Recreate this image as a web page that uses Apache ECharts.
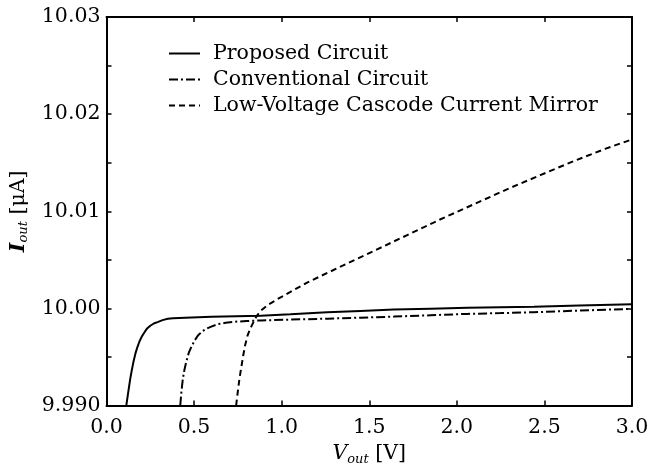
<!DOCTYPE html>
<html>
<head>
<meta charset="utf-8">
<script src="https://cdn.jsdelivr.net/npm/echarts@6/dist/echarts.min.js"></script>
<style>
  html, body { margin: 0; padding: 0; background: #fff; }
  #chart { width: 668px; height: 471px; }
</style>
</head>
<body>
<div id="chart"></div>
<script>
// output current vs output voltage
var seriesNames = ['Proposed Circuit', 'Conventional Circuit', 'Low-Voltage Cascode Current Mirror'];

var vProposed = [0.113, 0.125, 0.135, 0.145, 0.155, 0.165, 0.176, 0.188, 0.200, 0.215, 0.230, 0.250, 0.270, 0.295, 0.320, 0.350, 0.380, 0.450, 0.600, 0.880, 1.050, 1.260, 1.450, 1.640, 1.850, 2.060, 2.250, 2.440, 2.700, 3.000];
var iProposed = [9.99000, 9.99150, 9.99270, 9.99370, 9.99460, 9.99535, 9.99600, 9.99660, 9.99705, 9.99750, 9.99790, 9.99822, 9.99845, 9.99862, 9.99880, 9.99893, 9.99900, 9.99905, 9.99914, 9.99925, 9.99940, 9.99960, 9.99975, 9.99988, 9.99998, 10.00006, 10.00012, 10.00018, 10.00030, 10.00042];

var vConventional = [0.421, 0.428, 0.436, 0.445, 0.455, 0.470, 0.488, 0.505, 0.522, 0.545, 0.569, 0.598, 0.636, 0.680, 0.730, 0.800, 0.882, 1.050, 1.262, 1.450, 1.641, 1.850, 2.060, 2.250, 2.440, 2.700, 3.000];
var iConventional = [9.99000, 9.99150, 9.99277, 9.99370, 9.99448, 9.99545, 9.99618, 9.99675, 9.99721, 9.99762, 9.99790, 9.99813, 9.99838, 9.99853, 9.99863, 9.99870, 9.99877, 9.99885, 9.99895, 9.99905, 9.99916, 9.99930, 9.99944, 9.99952, 9.99961, 9.99978, 9.99996];

var vCascode = [0.740, 0.750, 0.759, 0.770, 0.780, 0.791, 0.805, 0.818, 0.829, 0.845, 0.859, 0.882, 0.920, 0.977, 1.050, 1.148, 1.330, 1.527, 1.720, 1.907, 2.100, 2.286, 2.480, 2.666, 2.850, 3.000];
var iCascode = [9.99000, 9.99150, 9.99277, 9.99400, 9.99510, 9.99618, 9.99720, 9.99780, 9.99823, 9.99880, 9.99926, 9.99978, 10.00035, 10.00097, 10.00170, 10.00269, 10.00425, 10.00593, 10.00758, 10.00918, 10.01075, 10.01226, 10.01375, 10.01516, 10.01645, 10.01740];

var xTicks = [0, 0.5, 1, 1.5, 2, 2.5, 3];
var xTickLabels = ['0.0', '0.5', '1.0', '1.5', '2.0', '2.5', '3.0'];
var yTicks = [9.99, 10.00, 10.01, 10.02, 10.03];
var yTickLabels = ['9.990', '10.00', '10.01', '10.02', '10.03'];

function pairs(xs, ys) {
  return xs.map(function (x, i) { return [x, ys[i]]; });
}

function lookup(ticks, labels, v) {
  for (var i = 0; i < ticks.length; i++) {
    if (Math.abs(ticks[i] - v) < 1e-6) return labels[i];
  }
  return '';
}

var font = 'DejaVu Serif';
var fs = 20.5;

var chart = echarts.init(document.getElementById('chart'), null, { renderer: 'canvas' });

var axisLine = { show: true, onZero: false, lineStyle: { color: '#000', width: 2 } };
var axisTick = { show: true, inside: true, length: 5, lineStyle: { color: '#000', width: 1.5 } };
var minorTick = { show: true, splitNumber: 2, length: 5, lineStyle: { color: '#000', width: 1.5 } };

var option = {
  animation: false,
  backgroundColor: '#fff',
  grid: { left: 105, right: 36, top: 17, bottom: 64, containLabel: false },
  legend: {
    orient: 'vertical',
    left: 163,
    top: 38,
    itemWidth: 31,
    itemHeight: 12,
    itemGap: 5,
    data: seriesNames,
    itemStyle: { opacity: 0 },
    textStyle: { fontFamily: font, fontSize: fs, color: '#000', padding: [0, 0, 0, 8] }
  },
  xAxis: [
    {
      type: 'value',
      position: 'bottom',
      min: 0, max: 3, interval: 0.5,
      axisLine: axisLine,
      axisTick: axisTick,
      splitLine: { show: false },
      axisLabel: {
        margin: 12,
        fontFamily: font, fontSize: fs, color: '#000',
        formatter: function (v) { return lookup(xTicks, xTickLabels, v); }
      },
      name: '{i|V}{s|out}{n| [V]}',
      nameLocation: 'middle',
      nameGap: 36,
      nameTextStyle: {
        rich: {
          i: { fontFamily: font, fontSize: fs, fontStyle: 'italic', color: '#000', lineHeight: 24 },
          s: { fontFamily: font, fontSize: 13, fontStyle: 'italic', color: '#000', lineHeight: 15, verticalAlign: 'bottom' },
          n: { fontFamily: font, fontSize: fs, color: '#000', lineHeight: 24 }
        }
      }
    },
    {
      type: 'value',
      position: 'top',
      min: 0, max: 3, interval: 0.5,
      axisLine: axisLine,
      axisTick: axisTick,
      axisLabel: { show: false },
      splitLine: { show: false }
    }
  ],
  yAxis: [
    {
      type: 'value',
      position: 'left',
      min: 9.99, max: 10.03, interval: 0.01,
      axisLine: axisLine,
      axisTick: axisTick,
      minorTick: minorTick,
      splitLine: { show: false },
      axisLabel: {
        margin: 6,
        fontFamily: font, fontSize: fs, color: '#000',
        formatter: function (v) { return lookup(yTicks, yTickLabels, v); }
      },
      name: '{i|I}{s|out}{n| [μA]}',
      nameLocation: 'middle',
      nameGap: 76,
      nameRotate: 90,
      nameTextStyle: {
        rich: {
          i: { fontFamily: font, fontSize: fs, fontStyle: 'italic', fontWeight: 'bold', color: '#000', lineHeight: 24 },
          s: { fontFamily: font, fontSize: 13, fontStyle: 'italic', color: '#000', lineHeight: 15, verticalAlign: 'bottom' },
          n: { fontFamily: font, fontSize: fs, color: '#000', lineHeight: 24 }
        }
      }
    },
    {
      type: 'value',
      position: 'right',
      min: 9.99, max: 10.03, interval: 0.01,
      axisLine: axisLine,
      axisTick: axisTick,
      minorTick: minorTick,
      axisLabel: { show: false },
      splitLine: { show: false }
    }
  ],
  series: [
    {
      name: seriesNames[0],
      type: 'line',
      showSymbol: false,
      symbol: 'none',
      clip: true,
      color: '#000',
      lineStyle: { color: '#000', width: 2, type: 'solid' },
      data: pairs(vProposed, iProposed)
    },
    {
      name: seriesNames[1],
      type: 'line',
      showSymbol: false,
      symbol: 'none',
      clip: true,
      color: '#000',
      lineStyle: { color: '#000', width: 2, type: [9, 3, 2, 3] },
      data: pairs(vConventional, iConventional)
    },
    {
      name: seriesNames[2],
      type: 'line',
      showSymbol: false,
      symbol: 'none',
      clip: true,
      color: '#000',
      lineStyle: { color: '#000', width: 2, type: [6, 4] },
      data: pairs(vCascode, iCascode)
    }
  ]
};

chart.setOption(option);
</script>
</body>
</html>
